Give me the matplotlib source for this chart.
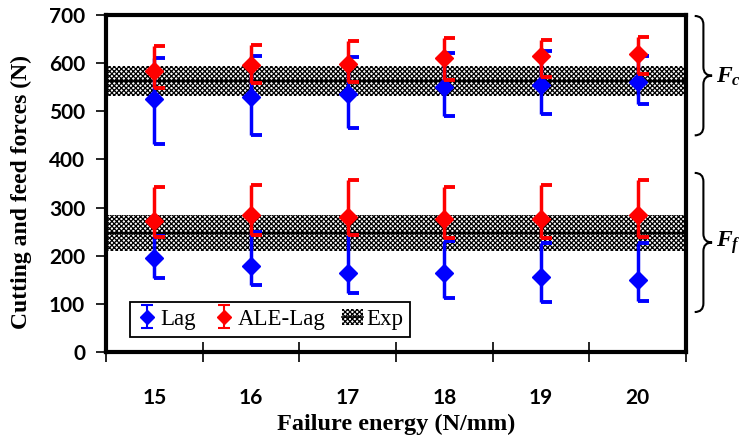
import numpy as np
import matplotlib
matplotlib.use("Agg")
import matplotlib.pyplot as plt
from matplotlib.path import Path
from matplotlib.patches import Patch, PathPatch
from matplotlib.lines import Line2D
import matplotlib.transforms as mtransforms

plt.rcParams['mathtext.fontset'] = 'custom'
plt.rcParams['mathtext.it'] = 'Liberation Serif:italic:bold'
plt.rcParams['mathtext.rm'] = 'Liberation Serif:bold'
plt.rcParams['hatch.linewidth'] = 0.9

# ---- data ----
categories = ["15", "16", "17", "18", "19", "20"]

lag_fc = [525, 530, 535, 550, 555, 560]
lag_fc_hi = [610, 615, 612, 622, 625, 615]
lag_fc_lo = [432, 450, 465, 490, 495, 515]

ale_fc = [583, 597, 598, 610, 615, 620]
ale_fc_hi = [635, 638, 645, 652, 648, 655]
ale_fc_lo = [548, 558, 560, 565, 572, 578]

lag_ff = [195, 179, 164, 164, 156, 150]
lag_ff_hi = [240, 250, 243, 230, 226, 226]
lag_ff_lo = [154, 140, 122, 112, 104, 106]

ale_ff = [272, 284, 280, 276, 277, 284]
ale_ff_hi = [343, 347, 358, 343, 347, 358]
ale_ff_lo = [238, 243, 243, 236, 236, 238]

exp_fc_mean, exp_fc_lo, exp_fc_hi = 563, 531, 595
exp_ff_mean, exp_ff_lo, exp_ff_hi = 248, 210, 285

yticks = [0, 100, 200, 300, 400, 500, 600, 700]

# ---- figure ----
fig = plt.figure(figsize=(7.41, 4.37), dpi=100)
ax = fig.add_axes([106/741, 1-352/437, 580/741, 337/437])

x = np.arange(len(categories))

# experimental bands
for lo, hi, m in [(exp_fc_lo, exp_fc_hi, exp_fc_mean), (exp_ff_lo, exp_ff_hi, exp_ff_mean)]:
    ax.axhspan(lo, hi, facecolor='white', edgecolor='black', hatch='xxxxxxx', linewidth=0, zorder=1)
    ax.axhline(m, color='black', lw=1.6, zorder=2)

half_cap = Path([(0, 0), (1, 0)], [Path.MOVETO, Path.LINETO])

def draw_series(vals, hi, lo, color, z):
    vals = np.array(vals, float); hi = np.array(hi, float); lo = np.array(lo, float)
    ax.errorbar(x, vals, yerr=[vals - lo, hi - vals], fmt='D', color=color,
                ms=9, elinewidth=2.5, capsize=0, zorder=z)
    ax.plot(x, hi, ls='none', marker=half_cap, ms=16, mew=2.8, color=color, zorder=z)
    ax.plot(x, lo, ls='none', marker=half_cap, ms=16, mew=2.8, color=color, zorder=z)

draw_series(lag_fc, lag_fc_hi, lag_fc_lo, 'blue', 3)
draw_series(lag_ff, lag_ff_hi, lag_ff_lo, 'blue', 3)
draw_series(ale_fc, ale_fc_hi, ale_fc_lo, 'red', 4)
draw_series(ale_ff, ale_ff_hi, ale_ff_lo, 'red', 4)

# legend proxies
h_lag = ax.errorbar([np.nan], [np.nan], yerr=[[1], [1]], fmt='D', color='blue', ms=7,
                    elinewidth=1.5, capsize=4, capthick=1.5)
h_ale = ax.errorbar([np.nan], [np.nan], yerr=[[1], [1]], fmt='D', color='red', ms=7,
                    elinewidth=1.5, capsize=4, capthick=1.5)
h_exp = (Patch(facecolor='white', edgecolor='black', hatch='xxxxxxx', linewidth=0),
         Line2D([], [], color='black', lw=1.2))
leg = ax.legend([h_lag, h_ale, h_exp], ['Lag', 'ALE-Lag', 'Exp'], ncol=3,
                loc='lower left', bbox_to_anchor=(0.041, 0.045), borderaxespad=0,
                fancybox=False, edgecolor='black', framealpha=1, borderpad=0.3,
                handlelength=0.9, handletextpad=0.15, columnspacing=0.75,
                prop={'family': 'Liberation Serif', 'size': 16.5})
leg.get_frame().set_linewidth(1.3)
leg.set_zorder(10)

# axes styling
ax.set_xlim(-0.5, 5.5)
ax.set_ylim(0, 700)
ax.set_yticks(yticks)
ax.set_xticks(x)
ax.set_xticklabels(categories)
ax.set_xticks(np.arange(-0.5, 6.0, 1.0), minor=True)
ax.tick_params(axis='x', which='major', length=0, pad=26)
ax.tick_params(axis='x', which='minor', direction='inout', length=14, width=1.2)
ax.tick_params(axis='y', which='major', direction='out', length=7, width=1.2, pad=8)
for lab in ax.get_xticklabels() + ax.get_yticklabels():
    lab.set_fontfamily('Lato')
    lab.set_fontweight('bold')
    lab.set_fontsize(15)

for s in ax.spines.values():
    s.set_linewidth(3)

ax.set_ylabel('Cutting and feed forces (N)', fontfamily='Liberation Serif',
              fontweight='bold', fontsize=17)
ax.yaxis.set_label_coords(-0.128, 0.475)
ax.set_xlabel('Failure energy (N/mm)', fontfamily='Liberation Serif',
              fontweight='bold', fontsize=17.5, labelpad=4)

# braces
tr = mtransforms.blended_transform_factory(ax.transAxes, ax.transData)

def brace(y0, y1, xl, w, r):
    ym = (y0 + y1) / 2
    xm = xl + w * 0.5
    verts = [(xl, y1), (xm, y1), (xm, y1 - r),
             (xm, ym + r),
             (xm, ym), (xl + w, ym),
             (xm, ym), (xm, ym - r),
             (xm, y0 + r),
             (xm, y0), (xl, y0)]
    codes = [Path.MOVETO, Path.CURVE3, Path.CURVE3,
             Path.LINETO,
             Path.CURVE3, Path.CURVE3,
             Path.CURVE3, Path.CURVE3,
             Path.LINETO,
             Path.CURVE3, Path.CURVE3]
    p = PathPatch(Path(verts, codes), transform=tr, fill=False, lw=1.5,
                  edgecolor='black', clip_on=False)
    ax.add_patch(p)
    return ym

ym = brace(450, 698, 1.015, 0.03, 18)
ax.text(1.052, ym, r'$F_c$', transform=tr, fontsize=17, va='center', ha='left')
ym = brace(83, 372, 1.015, 0.03, 18)
ax.text(1.052, ym, r'$F_f$', transform=tr, fontsize=17, va='center', ha='left')

fig.savefig('out.png', dpi=100)
